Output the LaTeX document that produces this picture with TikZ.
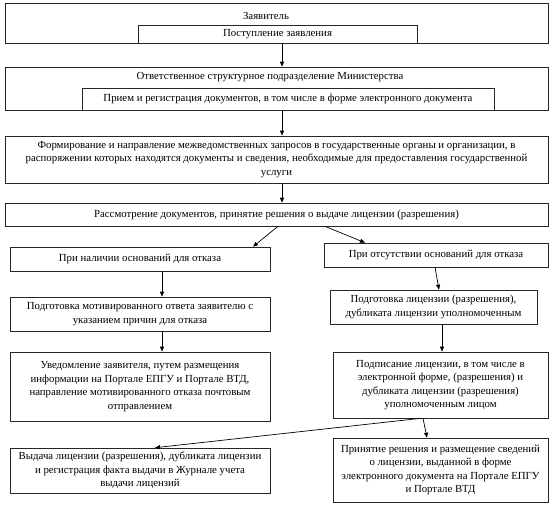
\documentclass[tikz,border=0pt]{standalone}
\usepackage{fontspec}
\setmainfont{Liberation Serif}
\usetikzlibrary{arrows.meta}
\newcommand\bx[6]{\node[box,txt,minimum width={#4-#2},minimum height={#5-#3}] (#1) at ({(#2+#4)/2},{(#3+#5)/2}) {#6};}
\begin{document}
\begin{tikzpicture}[x=1pt,y=-1pt,
 box/.style={draw=black!85,line width=0.6pt,inner sep=0pt},
 txt/.style={font=\fontsize{10.8}{13.5}\selectfont,align=center,inner sep=0pt},
 arr/.style={line width=0.7pt,-{Triangle[length=5pt,width=4pt]}}]
\useasboundingbox[fill=white] (0,0) rectangle (559,507);
% top group
\bx{Aout}{5}{3}{548}{43}{}
\node[txt] (Atitle) at (266,16) {Заявитель};
\bx{Ain}{138}{25}{417}{43}{Поступление заявления}
\bx{Bout}{5}{67}{548}{110}{}
\node[txt] (Btitle) at (270,77) {Ответственное структурное подразделение Министерства};
\bx{Bin}{82}{88}{494}{110}{Прием и регистрация документов, в том числе в форме электронного документа}
\bx{C}{5}{136}{548}{183}{Формирование и направление межведомственных запросов в государственные органы и организации, в\\ распоряжении которых находятся документы и сведения, необходимые для предоставления государственной\\ услуги}
\bx{D}{5}{203}{548}{226}{Рассмотрение документов, принятие решения о выдаче лицензии (разрешения)}
\bx{E1}{10}{247}{270}{271}{При наличии оснований для отказа}
\bx{E2}{324}{243}{548}{267}{При отсутствии оснований для отказа}
\bx{F1}{10}{297}{270}{331}{Подготовка мотивированного ответа заявителю с\\ указанием причин для отказа}
\bx{F2}{330}{290}{537}{324}{Подготовка лицензии (разрешения),\\ дубликата лицензии уполномоченным}
\bx{G1}{10}{352}{270}{421}{Уведомление заявителя, путем размещения\\ информации на Портале ЕПГУ и Портале ВТД,\\ направление мотивированного отказа почтовым\\ отправлением}
\bx{G2}{333}{352}{548}{418}{Подписание лицензии, в том числе в\\ электронной форме, (разрешения) и\\ дубликата лицензии (разрешения)\\ уполномоченным лицом}
\bx{H1}{10}{448}{270}{493}{Выдача лицензии (разрешения), дубликата лицензии\\ и регистрация факта выдачи в Журнале учета\\ выдачи лицензий}
\bx{H2}{333}{438}{548}{502}{Принятие решения и размещение сведений\\ о лицензии, выданной в форме\\ электронного документа на Портале ЕПГУ\\ и Портале ВТД}
% x reference coordinates
\coordinate (x282) at (282,0);
\coordinate (x278) at (278,0);
\coordinate (x253) at (253,0);
\coordinate (x325) at (325,0);
\coordinate (x365) at (365,0);
\coordinate (x162) at (162,0);
\coordinate (x435) at (435,0);
\coordinate (x439) at (439,0);
\coordinate (x442) at (442,0);
\coordinate (x421) at (421,0);
\coordinate (x155) at (155,0);
\coordinate (x423) at (423,0);
\coordinate (x427) at (427,0);
\draw[arr] (Aout.south -| x282) -- (Bout.north -| x282);
\draw[arr] (Bout.south -| x282) -- (C.north -| x282);
\draw[arr] (C.south -| x282) -- (D.north -| x282);
\draw[arr] (D.south -| x278) -- (E1.north -| x253);
\draw[arr] (D.south -| x325) -- (E2.north -| x365);
\draw[arr] (E1.south -| x162) -- (F1.north -| x162);
\draw[arr] (F1.south -| x162) -- (G1.north -| x162);
\draw[arr] (E2.south -| x435) -- (F2.north -| x439);
\draw[arr] (F2.south -| x442) -- (G2.north -| x442);
\draw[arr] (G2.south -| x421) -- (H1.north -| x155);
\draw[arr] (G2.south -| x423) -- (H2.north -| x427);
\end{tikzpicture}
\end{document}
